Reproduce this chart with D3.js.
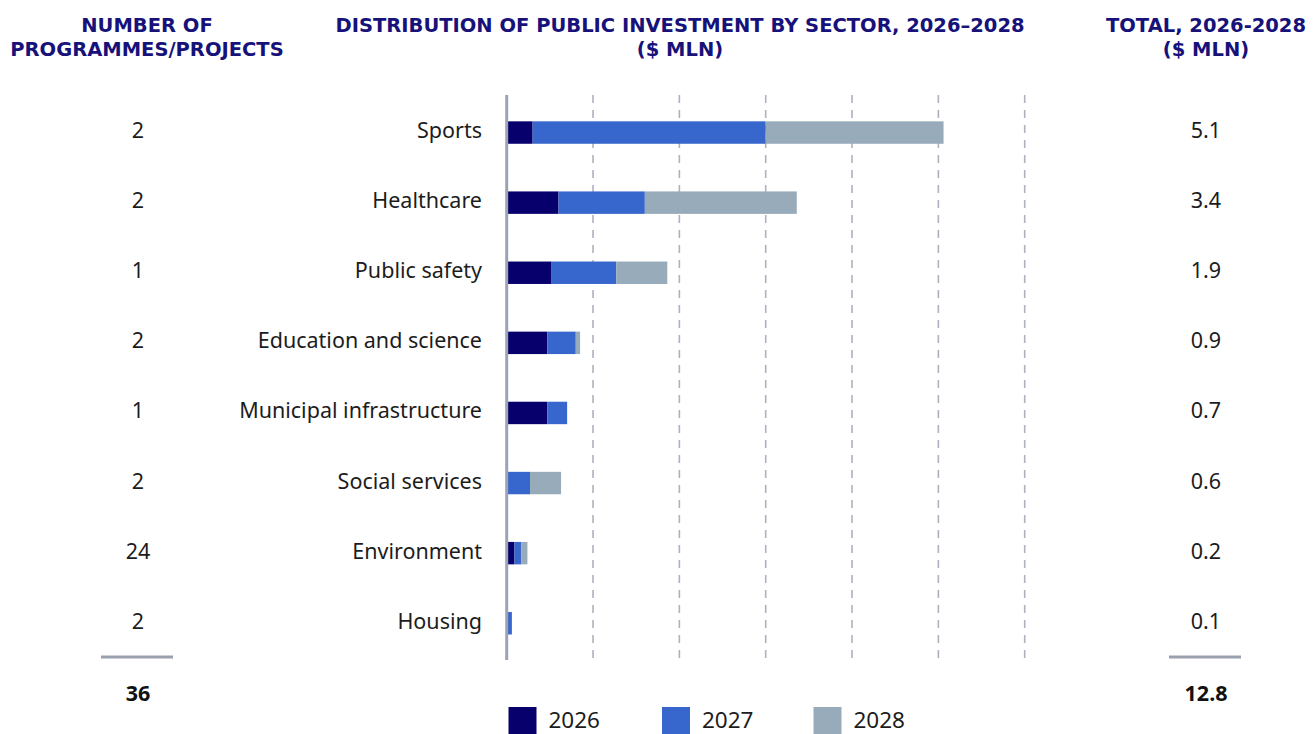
<!DOCTYPE html>
<html>
<head>
<meta charset="utf-8">
<script src="https://cdn.jsdelivr.net/npm/d3@7"></script>
<style>
  html, body { margin: 0; padding: 0; background: #ffffff; }
  svg { display: block; font-family: "Noto Sans", "Open Sans", sans-serif; }
  .head { font-family: "DejaVu Sans", "Noto Sans", sans-serif; }
</style>
</head>
<body>
<svg id="chart" width="1315" height="734"></svg>
<script>
// Sectors, top to bottom
const sectors = ["Sports", "Healthcare", "Public safety", "Education and science",
  "Municipal infrastructure", "Social services", "Environment", "Housing"];
// Investment per year, $ mln
const years = ["2026", "2027", "2028"];
const values2026 = [0.30, 0.60, 0.52, 0.47, 0.47, 0.00, 0.09, 0.01];
const values2027 = [2.70, 1.00, 0.75, 0.33, 0.23, 0.27, 0.08, 0.05];
const values2028 = [2.06, 1.76, 0.59, 0.05, 0.00, 0.36, 0.07, 0.00];
// Side columns
const projectCounts = [2, 2, 1, 2, 1, 2, 24, 2];
const totalLabels = ["5.1", "3.4", "1.9", "0.9", "0.7", "0.6", "0.2", "0.1"];
const projectsTotal = "36";
const grandTotal = "12.8";
const gridTicks = [1, 2, 3, 4, 5, 6];

const colors = { "2026": "#07006c", "2027": "#3766cc", "2028": "#97abbb" };
const navy = "#16127a";
const ink = "#1c1c1c";
const labelSize = 21.5;

const svg = d3.select("#chart");

const x = d3.scaleLinear().domain([0, 6]).range([506.7, 1024.7]);
const y = d3.scaleBand().domain(sectors).range([97.5, 658.3])
  .paddingInner(0.68).paddingOuter(0.34);
const rowMid = s => y(s) + y.bandwidth() / 2 - 2;

// Headers
const headers = [
  { cx: 147, lines: ["NUMBER OF", "PROGRAMMES/PROJECTS"] },
  { cx: 680, lines: ["DISTRIBUTION OF PUBLIC INVESTMENT BY SECTOR, 2026–2028", "($ MLN)"] },
  { cx: 1206, lines: ["TOTAL, 2026-2028", "($ MLN)"] }
];
headers.forEach(h => {
  h.lines.forEach((t, i) => {
    svg.append("text")
      .attr("class", "head")
      .attr("x", h.cx).attr("y", 31.5 + i * 24)
      .attr("text-anchor", "middle")
      .attr("font-size", 19.5).attr("font-weight", 700)
      .attr("fill", navy)
      .text(t);
  });
});

// Dashed gridlines
svg.append("g").selectAll("line").data(gridTicks).join("line")
  .attr("x1", d => x(d)).attr("x2", d => x(d))
  .attr("y1", 95).attr("y2", 660)
  .attr("stroke", "#aeb2c0").attr("stroke-width", 1.6)
  .attr("stroke-dasharray", "8,7");

// Stacked bars
const rows = sectors.map((s, i) => ({ sector: s, "2026": values2026[i], "2027": values2027[i], "2028": values2028[i] }));
const stack = d3.stack().keys(years)(rows);
svg.append("g").selectAll("g").data(stack).join("g")
  .attr("fill", d => colors[d.key])
  .selectAll("rect").data(d => d).join("rect")
  .attr("x", d => x(d[0]))
  .attr("y", d => y(d.data.sector))
  .attr("width", d => Math.max(0, x(d[1]) - x(d[0])))
  .attr("height", y.bandwidth());

// Zero axis line
svg.append("line")
  .attr("x1", x(0)).attr("x2", x(0))
  .attr("y1", 95).attr("y2", 660)
  .attr("stroke", "#9ba3b4").attr("stroke-width", 3);

// Category labels
svg.append("g").selectAll("text").data(sectors).join("text")
  .attr("x", 482).attr("y", d => rowMid(d))
  .attr("dy", "0.35em")
  .attr("text-anchor", "end")
  .attr("font-size", labelSize).attr("fill", ink)
  .text(d => d);

// Number of programmes/projects
svg.append("g").selectAll("text").data(projectCounts).join("text")
  .attr("x", 138).attr("y", (d, i) => rowMid(sectors[i]))
  .attr("dy", "0.35em")
  .attr("text-anchor", "middle")
  .attr("font-size", labelSize).attr("fill", ink)
  .text(d => d);

// Totals
svg.append("g").selectAll("text").data(totalLabels).join("text")
  .attr("x", 1206).attr("y", (d, i) => rowMid(sectors[i]))
  .attr("dy", "0.35em")
  .attr("text-anchor", "middle")
  .attr("font-size", labelSize).attr("fill", ink)
  .text(d => d);

// Summary separators and sums
[[101, 173, 138, projectsTotal], [1169, 1241, 1206, grandTotal]].forEach(([a, b, cx, t]) => {
  svg.append("line")
    .attr("x1", a).attr("x2", b).attr("y1", 657).attr("y2", 657)
    .attr("stroke", "#9ba0ae").attr("stroke-width", 3);
  svg.append("text")
    .attr("x", cx).attr("y", 693).attr("dy", "0.35em")
    .attr("text-anchor", "middle")
    .attr("font-size", labelSize).attr("font-weight", 700).attr("fill", "#111")
    .text(t);
});

// Legend (swatches run off the bottom edge)
const legendX = [508.5, 662, 813.5];
const legend = svg.append("g").selectAll("g").data(years).join("g")
  .attr("transform", (d, i) => `translate(${legendX[i]},707)`);
legend.append("rect")
  .attr("width", 28).attr("height", 28)
  .attr("fill", d => colors[d]);
legend.append("text")
  .attr("x", 40).attr("y", 20.5)
  .attr("font-size", 22.5).attr("fill", ink)
  .text(d => d);
</script>
</body>
</html>
